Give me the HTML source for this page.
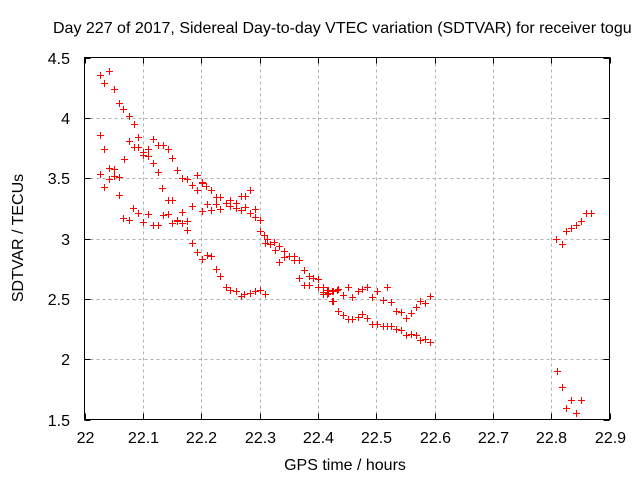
<!DOCTYPE html>
<html><head><meta charset="utf-8"><style>
html,body{margin:0;padding:0;background:#fff;}
svg{display:block;font-family:"Liberation Sans",sans-serif;}
</style></head><body>
<svg id="chart" width="640" height="480" viewBox="0 0 640 480" xmlns="http://www.w3.org/2000/svg">
<rect width="640" height="480" fill="#fff"/>
<text x="53" y="33" font-size="16" fill="#000">Day 227 of 2017, Sidereal Day-to-day VTEC variation (SDTVAR) for receiver togu</text>
<g id="grid"></g>
<g id="ticks"></g>
<g id="points"></g>
<rect x="84.5" y="57.5" width="525" height="362" fill="none" stroke="#000" stroke-width="1"/>
<text transform="translate(23,238) rotate(-90)" text-anchor="middle" font-size="16">SDTVAR / TECUs</text>
<text x="345" y="470" text-anchor="middle" font-size="16">GPS time / hours</text>
</svg>
<script>
const xTicks = [22, 22.1, 22.2, 22.3, 22.4, 22.5, 22.6, 22.7, 22.8, 22.9];
const xTickLabels = ["22","22.1","22.2","22.3","22.4","22.5","22.6","22.7","22.8","22.9"];
const yTicks = [1.5, 2, 2.5, 3, 3.5, 4, 4.5];
const yTickLabels = ["1.5","2","2.5","3","3.5","4","4.5"];
const timeHours = [22.026,22.042,22.033,22.050,22.059,22.066,22.077,22.085,22.026,22.033,22.076,22.091,22.085,22.091,22.067,22.101,22.101,22.109,22.109,22.117,22.126,22.134,22.143,22.150,22.117,22.126,22.159,22.168,22.175,22.184,22.192,22.192,22.202,22.209,22.217,22.026,22.042,22.050,22.050,22.059,22.042,22.033,22.059,22.133,22.143,22.150,22.083,22.091,22.066,22.076,22.101,22.109,22.117,22.126,22.134,22.143,22.150,22.159,22.159,22.168,22.168,22.176,22.176,22.185,22.185,22.202,22.210,22.217,22.225,22.225,22.233,22.233,22.242,22.250,22.250,22.259,22.259,22.268,22.275,22.268,22.275,22.283,22.283,22.292,22.292,22.301,22.301,22.308,22.313,22.310,
22.201,22.233,22.325,22.318,22.333,22.326,22.342,22.350,22.359,22.342,22.333,22.359,22.368,22.376,22.385,22.368,22.392,22.400,22.376,22.385,22.400,22.408,22.416,22.408,22.416,22.425,22.433,22.425,
22.192,22.201,22.210,22.217,22.225,22.233,22.242,22.250,22.259,22.268,22.274,22.284,22.292,22.301,22.310,
22.409,22.417,22.417,22.426,22.426,22.434,22.434,22.443,22.443,22.451,22.451,22.459,22.459,22.468,22.468,22.476,22.476,22.485,22.485,22.493,22.493,22.502,22.502,22.511,22.511,22.518,22.518,22.526,22.526,22.534,22.534,22.542,22.542,22.551,22.551,22.559,22.559,22.568,22.568,22.575,22.575,22.584,22.584,22.592,22.592,
22.809,22.818,22.825,22.834,22.842,22.851,22.859,22.868,22.810,22.818,22.834,22.851,22.825,22.842];
const sdtvar = [4.357,4.384,4.290,4.241,4.125,4.075,4.019,3.945,3.859,3.738,3.812,3.845,3.757,3.762,3.655,3.715,3.696,3.738,3.682,3.826,3.771,3.779,3.738,3.669,3.627,3.555,3.569,3.503,3.489,3.447,3.530,3.404,3.467,3.439,3.398,3.536,3.583,3.572,3.514,3.508,3.489,3.425,3.362,3.417,3.315,3.315,3.251,3.213,3.168,3.155,3.135,3.205,3.108,3.116,3.191,3.199,3.127,3.157,3.141,3.218,3.127,3.141,3.072,3.268,2.964,3.232,3.282,3.238,3.342,3.288,3.342,3.246,3.296,3.323,3.273,3.296,3.251,3.351,3.351,3.238,3.265,3.406,3.213,3.246,3.182,3.155,3.066,3.033,2.997,2.961,
3.458,3.348,2.975,2.956,2.934,2.901,2.895,2.859,2.859,2.845,2.804,2.818,2.818,2.735,2.693,2.674,2.674,2.666,2.616,2.616,2.602,2.602,2.575,2.542,2.542,2.569,2.577,2.486,
2.886,2.826,2.867,2.859,2.749,2.693,2.602,2.577,2.561,2.522,2.542,2.550,2.561,2.575,2.542,
2.555,2.575,2.547,2.563,2.486,2.583,2.403,2.528,2.370,2.596,2.329,2.519,2.329,2.563,2.348,2.583,2.376,2.596,2.343,2.519,2.293,2.561,2.293,2.494,2.279,2.596,2.271,2.472,2.279,2.403,2.252,2.389,2.238,2.339,2.202,2.381,2.210,2.436,2.202,2.486,2.155,2.464,2.163,2.522,2.146,
2.997,2.956,3.060,3.089,3.113,3.143,3.213,3.213,1.900,1.773,1.663,1.663,1.597,1.556];

const NS = "http://www.w3.org/2000/svg";
const X0 = 84.5, X1 = 609.5, Y0 = 419.5, Y1 = 57.5;
const xMin = 22, xMax = 22.9, yMin = 1.5, yMax = 4.5;
function xScale(v){ return X0 + (v - xMin) / (xMax - xMin) * (X1 - X0); }
function yScale(v){ return Y0 - (v - yMin) / (yMax - yMin) * (Y0 - Y1); }
function mk(tag, attrs){ const e = document.createElementNS(NS, tag); for (const k in attrs) e.setAttribute(k, attrs[k]); return e; }

const grid = document.getElementById('grid');
const ticks = document.getElementById('ticks');
xTicks.forEach((t, i) => {
  const x = Math.round(xScale(t)) + 0.5;
  if (i > 0 && i < xTicks.length - 1) {
    const g = mk('line', {x1:x, x2:x, y1:Y1, y2:Y0, stroke:'#b0b0b0', 'stroke-width':1, 'stroke-dasharray':'3,3'});
    
    
    grid.appendChild(g);
  }
  const tk = mk('path', {d:`M${x},${Y0}v-6M${x},${Y1}v6`, stroke:'#000', 'stroke-width':1});
  
  
  ticks.appendChild(tk);
  const lb = mk('text', {x:x, y:443, 'text-anchor':'middle', 'font-size':16});
  lb.textContent = xTickLabels[i];
  
  
  ticks.appendChild(lb);
});
yTicks.forEach((t, i) => {
  const y = Math.round(yScale(t)) + 0.5;
  if (i > 0 && i < yTicks.length - 1) {
    const g = mk('line', {x1:X0, x2:X1, y1:y, y2:y, stroke:'#b0b0b0', 'stroke-width':1, 'stroke-dasharray':'3,3'});
    
    
    grid.appendChild(g);
  }
  const tk = mk('path', {d:`M${X0},${y}h6M${X1},${y}h-6`, stroke:'#000', 'stroke-width':1});
  
  
  ticks.appendChild(tk);
  const lb = mk('text', {x:70, y:y + 5.5, 'text-anchor':'end', 'font-size':16});
  lb.textContent = yTickLabels[i];
  
  
  ticks.appendChild(lb);
});

const pts = document.getElementById('points');
timeHours.forEach((t, i) => {
  const x = Math.round(xScale(t)) + 0.5, y = Math.round(yScale(sdtvar[i])) + 0.5;
  const p = mk('path', {d:`M${x-3.5},${y}h7M${x},${y-3.5}v7`, stroke:'#ff0000', 'stroke-width':1, fill:'none'});
  
  
  pts.appendChild(p);
});
</script>
</body></html>
